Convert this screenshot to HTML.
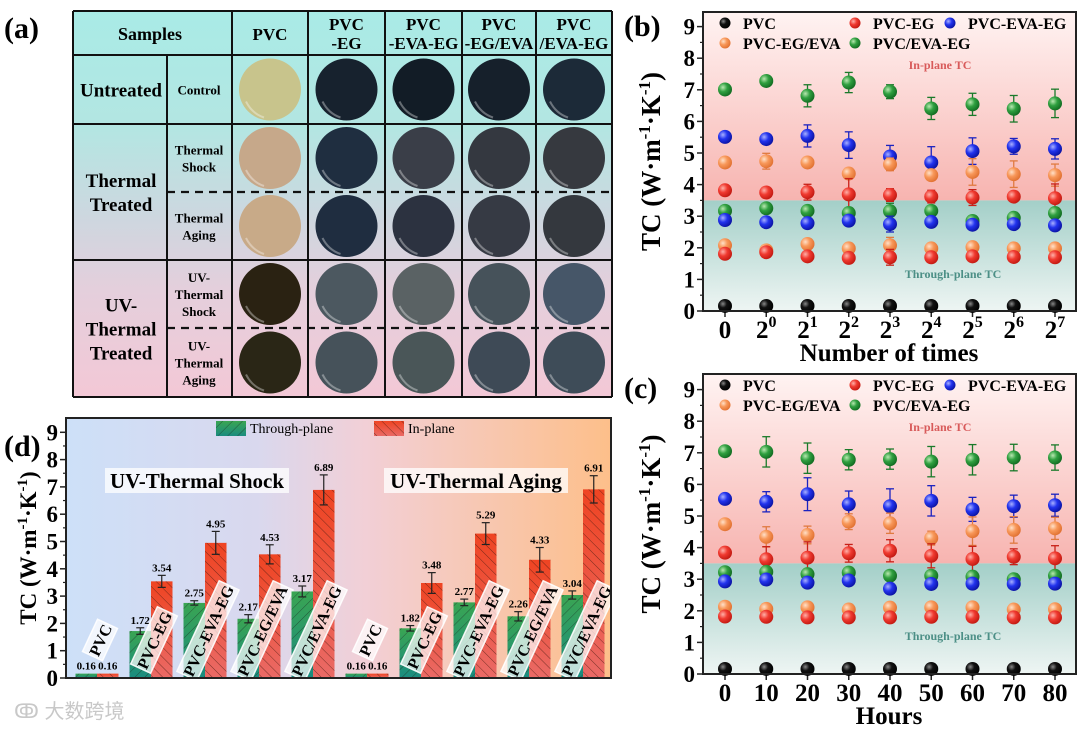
<!DOCTYPE html>
<html><head><meta charset="utf-8"><style>
html,body{margin:0;padding:0;background:#fff;}
svg{display:block;font-family:"Liberation Serif","Noto Serif CJK SC",serif;}
</style></head><body>
<svg id="fig" width="1080" height="732" viewBox="0 0 1080 732" xmlns="http://www.w3.org/2000/svg">
<defs>
<linearGradient id="tblBg" x1="0" y1="0" x2="0" y2="1">
<stop offset="0" stop-color="#a9ebe6"/><stop offset="0.3" stop-color="#b3e6e2"/><stop offset="0.55" stop-color="#cfd6df"/><stop offset="0.72" stop-color="#e4cfdc"/><stop offset="1" stop-color="#f3c8d6"/></linearGradient>
<linearGradient id="inBg" x1="0" y1="0" x2="0" y2="1"><stop offset="0" stop-color="#fff3f2"/><stop offset="1" stop-color="#f7b4b0"/></linearGradient>
<linearGradient id="thBg" x1="0" y1="0" x2="0" y2="1"><stop offset="0" stop-color="#a3cfc8"/><stop offset="1" stop-color="#eef5f3"/></linearGradient>
<linearGradient id="dBg" x1="0" y1="0" x2="1" y2="0"><stop offset="0" stop-color="#cde0f8"/><stop offset="0.35" stop-color="#d9d8ee"/><stop offset="0.55" stop-color="#f2cfd6"/><stop offset="1" stop-color="#fdbf8a"/></linearGradient>
<linearGradient id="gBar" x1="0" y1="0" x2="0" y2="1"><stop offset="0" stop-color="#3aa552"/><stop offset="1" stop-color="#1a8c80"/></linearGradient>
<linearGradient id="rBar" x1="0" y1="0" x2="0" y2="1"><stop offset="0" stop-color="#ef4422"/><stop offset="1" stop-color="#ea6a66"/></linearGradient>
<pattern id="hatchF" width="7" height="7" patternUnits="userSpaceOnUse" patternTransform="rotate(45)"><line x1="0" y1="0" x2="0" y2="7" stroke="#1d3a2a" stroke-width="1" opacity="0.7"/></pattern>
<pattern id="hatchB" width="7" height="7" patternUnits="userSpaceOnUse" patternTransform="rotate(-45)"><line x1="0" y1="0" x2="0" y2="7" stroke="#4a1a10" stroke-width="1" opacity="0.7"/></pattern>
<radialGradient id="s-black" cx="0.35" cy="0.35" r="0.7"><stop offset="0" stop-color="#888"/><stop offset="0.4" stop-color="#111"/><stop offset="1" stop-color="#000"/></radialGradient>
<radialGradient id="s-red" cx="0.35" cy="0.35" r="0.7"><stop offset="0" stop-color="#ffb0a8"/><stop offset="0.45" stop-color="#f03a30"/><stop offset="1" stop-color="#c01810"/></radialGradient>
<radialGradient id="s-blue" cx="0.35" cy="0.35" r="0.7"><stop offset="0" stop-color="#a8b0ff"/><stop offset="0.45" stop-color="#2233ee"/><stop offset="1" stop-color="#0a12a0"/></radialGradient>
<radialGradient id="s-orange" cx="0.35" cy="0.35" r="0.7"><stop offset="0" stop-color="#ffe0c8"/><stop offset="0.45" stop-color="#f8985a"/><stop offset="1" stop-color="#e07030"/></radialGradient>
<radialGradient id="s-green" cx="0.35" cy="0.35" r="0.7"><stop offset="0" stop-color="#b8e8b0"/><stop offset="0.45" stop-color="#30a040"/><stop offset="1" stop-color="#106a20"/></radialGradient>
</defs>

<text x="4" y="38" font-size="30" font-weight="bold">(a)</text>
<g id="tableA"></g>

<text x="624" y="36" font-size="30" font-weight="bold">(b)</text>
<g id="panelB"></g>
<text x="624" y="398" font-size="30" font-weight="bold">(c)</text>
<g id="panelC"></g>
<text x="4" y="456" font-size="30" font-weight="bold">(d)</text>
<g id="panelD"></g>

<text x="14" y="718" font-size="20" fill="#c8c8c8" font-family="'Liberation Sans','Noto Sans CJK SC',sans-serif">ↂ 大数跨境</text>
</svg>
<script>
const NS = "http://www.w3.org/2000/svg";
function mk(parent, tag, attrs, text) {
  const e = document.createElementNS(NS, tag);
  for (const k in attrs) e.setAttribute(k, attrs[k]);
  if (text !== undefined) e.textContent = text;
  parent.appendChild(e);
  return e;
}

/* ---------- Panel (a) table ---------- */
const colHeaders = [["PVC"], ["PVC", "-EG"], ["PVC", "-EVA-EG"], ["PVC", "-EG/EVA"], ["PVC", "/EVA-EG"]];
const rowLabels = [["Control"], ["Thermal", "Shock"], ["Thermal", "Aging"], ["UV-", "Thermal", "Shock"], ["UV-", "Thermal", "Aging"]];
const groupLabels = [["Untreated"], ["Thermal", "Treated"], ["UV-", "Thermal", "Treated"]];
const discColors = [
  ["#c8c48c", "#17222e", "#121c26", "#16202b", "#1c2a38"],
  ["#c6a88a", "#1f2e40", "#3a3e48", "#343840", "#36393f"],
  ["#c8aa88", "#1f2d40", "#2c3240", "#363a44", "#34383e"],
  ["#2a2212", "#4c5860", "#5a6264", "#46525a", "#465668"],
  ["#2a2616", "#46525a", "#4a5658", "#3e4a56", "#3e4c58"]
];
(function () {
  const g = document.getElementById("tableA");
  const X = [73, 167, 232, 308, 385, 462, 536, 612];
  const Y = [11, 55, 124, 192, 260, 328, 397];
  const bg = mk(g, "rect", { x: 73, y: 11, width: 539, height: 386, fill: "url(#tblBg)" });
  
  
  const sh = mk(g, "text", { x: 150, y: 40, "font-size": 18, "font-weight": "bold", "text-anchor": "middle" }, "Samples");
  
  
  colHeaders.forEach((lines, i) => {
    const cx = (X[i + 2] + X[i + 3]) / 2;
    const t = mk(g, "text", { x: cx, "font-size": 17, "font-weight": "bold", "text-anchor": "middle" });
    
    
    lines.forEach((l, j) => {
      const y0 = lines.length === 1 ? 40 : 30 + j * 19;
      mk(t, "tspan", { x: cx, y: y0 }, l);
    });
  });
  const gy = [[55, 124], [124, 260], [260, 397]];
  groupLabels.forEach((lines, i) => {
    const cy = (gy[i][0] + gy[i][1]) / 2;
    const fs = 19, lh = 24;
    const t = mk(g, "text", { x: 121, "font-size": fs, "font-weight": "bold", "text-anchor": "middle" });
    
    
    lines.forEach((l, j) => {
      mk(t, "tspan", { x: 121, y: cy - (lines.length - 1) * lh / 2 + j * lh + 7 }, l);
    });
  });
  rowLabels.forEach((lines, i) => {
    const cy = (Y[i + 1] + Y[i + 2]) / 2;
    const lh = 17;
    const t = mk(g, "text", { x: 199, "font-size": 13, "font-weight": "bold", "text-anchor": "middle" });
    
    
    lines.forEach((l, j) => {
      mk(t, "tspan", { x: 199, y: cy - (lines.length - 1) * lh / 2 + j * lh + 5 }, l);
    });
    for (let c = 0; c < 5; c++) {
      const cx = (X[c + 2] + X[c + 3]) / 2;
      const d = mk(g, "ellipse", { cx: cx, cy: cy, rx: 31, ry: 31, fill: discColors[i][c] });
      
      
      mk(g, "path", { d: `M${cx - 24} ${cy + 12} Q${cx - 18} ${cy + 24} ${cx - 6} ${cy + 28}`, stroke: "rgba(255,255,255,0.35)", "stroke-width": 2, fill: "none" });
    }
  });
  const L = (x1, y1, x2, y2, dash) => mk(g, "line", { x1, y1, x2, y2, stroke: "#111", "stroke-width": dash ? 2.2 : 2, "stroke-dasharray": dash ? "8 6" : "none" });
  L(73, 11, 612, 11); L(73, 397, 612, 397); L(73, 55, 612, 55); L(73, 124, 612, 124); L(73, 260, 612, 260);
  L(167, 192, 612, 192, true); L(167, 328, 612, 328, true);
  L(73, 11, 73, 397); L(612, 11, 612, 397); L(167, 55, 167, 397);
  [232, 308, 385, 462, 536].forEach(x => L(x, 11, x, 397));
})();

/* ---------- Panels (b) & (c) scatter data ---------- */
const seriesNames = ["PVC", "PVC-EG", "PVC-EVA-EG", "PVC-EG/EVA", "PVC/EVA-EG"];
const bCats = ["0", "2^0", "2^1", "2^2", "2^3", "2^4", "2^5", "2^6", "2^7"];
const cCats = ["0", "10", "20", "30", "40", "50", "60", "70", "80"];
const yTicks = [0, 1, 2, 3, 4, 5, 6, 7, 8, 9];

const bPVC = [0.16, 0.16, 0.16, 0.16, 0.16, 0.16, 0.16, 0.16, 0.16];
const bGreenIn = [7.01, 7.28, 6.81, 7.23, 6.94, 6.41, 6.54, 6.40, 6.57];
const bBlueIn = [5.51, 5.44, 5.54, 5.25, 4.89, 4.70, 5.06, 5.21, 5.13];
const bOrangeIn = [4.70, 4.74, 4.70, 4.35, 4.64, 4.30, 4.40, 4.33, 4.30];
const bRedIn = [3.82, 3.75, 3.76, 3.69, 3.67, 3.62, 3.59, 3.62, 3.57];
const bGreenTh = [3.17, 3.25, 3.17, 3.10, 3.16, 3.17, 2.85, 2.95, 3.10];
const bBlueTh = [2.88, 2.81, 2.78, 2.86, 2.75, 2.82, 2.73, 2.75, 2.71];
const bOrangeTh = [2.08, 1.92, 2.12, 1.98, 2.08, 1.98, 2.02, 1.98, 1.98];
const bRedTh = [1.81, 1.86, 1.73, 1.68, 1.70, 1.70, 1.73, 1.71, 1.70];
const bGreenInErr = [0.05, 0.15, 0.35, 0.32, 0.22, 0.35, 0.35, 0.42, 0.45];
const bBlueInErr = [0.05, 0.15, 0.35, 0.42, 0.35, 0.5, 0.42, 0.25, 0.32];
const bOrangeInErr = [0.05, 0.25, 0.05, 0.15, 0.2, 0.05, 0.42, 0.42, 0.35];
const bRedInErr = [0.05, 0.05, 0.25, 0.5, 0.2, 0.2, 0.25, 0.1, 0.45];
const bThErr = [0.05, 0.05, 0.15, 0.1, 0.25, 0.05, 0.05, 0.05, 0.15];

const cPVC = [0.16, 0.16, 0.16, 0.16, 0.16, 0.16, 0.16, 0.16, 0.16];
const cGreenIn = [7.05, 7.03, 6.83, 6.78, 6.80, 6.72, 6.78, 6.85, 6.85];
const cBlueIn = [5.54, 5.45, 5.69, 5.37, 5.31, 5.48, 5.21, 5.31, 5.34];
const cOrangeIn = [4.74, 4.34, 4.40, 4.82, 4.77, 4.30, 4.52, 4.56, 4.61];
const cRedIn = [3.84, 3.63, 3.68, 3.82, 3.90, 3.74, 3.64, 3.71, 3.66];
const cGreenTh = [3.22, 3.23, 3.16, 3.21, 3.11, 3.11, 3.08, 3.00, 3.11];
const cBlueTh = [2.93, 2.99, 2.89, 2.96, 2.70, 2.85, 2.86, 2.85, 2.86];
const cOrangeTh = [2.13, 2.06, 2.11, 2.04, 2.10, 2.11, 2.11, 2.04, 2.05];
const cRedTh = [1.82, 1.81, 1.79, 1.79, 1.79, 1.81, 1.81, 1.79, 1.79];
const cGreenInErr = [0.05, 0.48, 0.48, 0.32, 0.32, 0.48, 0.48, 0.42, 0.40];
const cBlueInErr = [0.05, 0.32, 0.52, 0.42, 0.55, 0.48, 0.38, 0.35, 0.35];
const cOrangeInErr = [0.12, 0.32, 0.28, 0.25, 0.32, 0.22, 0.45, 0.42, 0.35];
const cRedInErr = [0.1, 0.4, 0.5, 0.28, 0.35, 0.38, 0.4, 0.25, 0.4];
const cThErr = [0.05, 0.05, 0.05, 0.05, 0.05, 0.05, 0.05, 0.05, 0.05];

function scatterPanel(gid, top, bottom, cats, catLabelFn, xTitle, S) {
  const g = document.getElementById(gid);
  const L = 703, R = 1076, y0 = bottom, k = 31.6;
  const yS = v => y0 - v * k;
  const xS = i => 725 + i * (1055 - 725) / (cats.length - 1);
  const r1 = mk(g, "rect", { x: L, y: top, width: R - L, height: yS(3.5) - top, fill: "url(#inBg)" });
  
  
  const r2 = mk(g, "rect", { x: L, y: yS(3.5), width: R - L, height: bottom - yS(3.5), fill: "url(#thBg)" });
  
  
  const t1 = mk(g, "text", { x: 940, y: top + 57, "font-size": 12, "font-weight": "bold", fill: "#d85a5a", "text-anchor": "middle" }, "In-plane TC");
  
  
  const t2 = mk(g, "text", { x: 953, y: top + 266, "font-size": 12, "font-weight": "bold", fill: "#4c8f86", "text-anchor": "middle" }, "Through-plane TC");
  
  
  yTicks.forEach(v => {
    mk(g, "line", { x1: L, x2: L - 6, y1: yS(v), y2: yS(v), stroke: "#222", "stroke-width": 1.5 });
    if (v < 9) mk(g, "line", { x1: L, x2: L - 3, y1: yS(v + 0.5), y2: yS(v + 0.5), stroke: "#222", "stroke-width": 1.2 });
    const t = mk(g, "text", { x: L - 8, y: yS(v) + 8, "font-size": 23, "font-weight": "bold", "text-anchor": "end" }, String(v));
    
    
  });
  const yt = mk(g, "text", { x: 0, y: 0, "font-size": 27, "font-weight": "bold", "text-anchor": "middle", transform: `translate(660 ${(top + bottom) / 2}) rotate(-90)` });
  
  
  mk(yt, "tspan", {}, "TC (W·m");
  mk(yt, "tspan", { dy: -10, "font-size": 17 }, "-1");
  mk(yt, "tspan", { dy: 10 }, "·K");
  mk(yt, "tspan", { dy: -10, "font-size": 17 }, "-1");
  mk(yt, "tspan", { dy: 10 }, ")");
  cats.forEach((c, i) => {
    mk(g, "line", { x1: xS(i), x2: xS(i), y1: bottom, y2: bottom + 6, stroke: "#222", "stroke-width": 1.5 });
    const t = mk(g, "text", { x: xS(i), y: bottom + 27, "font-size": 25, "font-weight": "bold", "text-anchor": "middle" });
    
    
    if (c.indexOf("^") > 0) { const p = c.split("^"); mk(t, "tspan", {}, p[0]); mk(t, "tspan", { dy: -11, "font-size": 16 }, p[1]); }
    else t.textContent = c;
  });
  const xt = mk(g, "text", { x: 889, y: bottom + 50, "font-size": 25, "font-weight": "bold", "text-anchor": "middle" }, xTitle);
  
  
  S.forEach(s => {
    s.vals.forEach((v, i) => {
      const e = s.err[i];
      if (e > 0.06) {
        const col = s.ec;
        mk(g, "line", { x1: xS(i), x2: xS(i), y1: yS(v - e), y2: yS(v + e), stroke: col, "stroke-width": 1.3 });
        mk(g, "line", { x1: xS(i) - 4, x2: xS(i) + 4, y1: yS(v - e), y2: yS(v - e), stroke: col, "stroke-width": 1.3 });
        mk(g, "line", { x1: xS(i) - 4, x2: xS(i) + 4, y1: yS(v + e), y2: yS(v + e), stroke: col, "stroke-width": 1.3 });
      }
      const c = mk(g, "circle", { cx: xS(i), cy: yS(v), r: 7, fill: `url(#s-${s.color})` });
      
      
    });
  });
  const leg = [["black", 725, 23, "PVC"], ["red", 855, 23, "PVC-EG"], ["blue", 950, 23, "PVC-EVA-EG"], ["orange", 725, 43, "PVC-EG/EVA"], ["green", 855, 43, "PVC/EVA-EG"]];
  leg.forEach(l => {
    const ly = top - 12 + l[2];
    const lc = mk(g, "circle", { cx: l[1], cy: ly, r: 5.5, fill: `url(#s-${l[0]})` });
    
    
    const lt = mk(g, "text", { x: l[1] + 18, y: ly + 6, "font-size": 16, "font-weight": "bold" }, l[3]);
    
    
  });
  const fr = mk(g, "rect", { x: L, y: top, width: R - L, height: bottom - top, fill: "none", stroke: "#222", "stroke-width": 2 });
  
  
}
scatterPanel("panelB", 12, 311, bCats, null, "Number of times", [
  { vals: bPVC, err: bThErr.map(() => 0), color: "black", ec: "#000" },
  { vals: bGreenIn, err: bGreenInErr, color: "green", ec: "#1a7a2a" },
  { vals: bBlueIn, err: bBlueInErr, color: "blue", ec: "#1a22c0" },
  { vals: bOrangeIn, err: bOrangeInErr, color: "orange", ec: "#e07a40" },
  { vals: bRedIn, err: bRedInErr, color: "red", ec: "#c82018" },
  { vals: bGreenTh, err: bThErr, color: "green", ec: "#1a7a2a" },
  { vals: bBlueTh, err: bThErr, color: "blue", ec: "#1a22c0" },
  { vals: bOrangeTh, err: bThErr, color: "orange", ec: "#e07a40" },
  { vals: bRedTh, err: bThErr, color: "red", ec: "#c82018" }
]);
scatterPanel("panelC", 374, 674, cCats, null, "Hours", [
  { vals: cPVC, err: cThErr.map(() => 0), color: "black", ec: "#000" },
  { vals: cGreenIn, err: cGreenInErr, color: "green", ec: "#1a7a2a" },
  { vals: cBlueIn, err: cBlueInErr, color: "blue", ec: "#1a22c0" },
  { vals: cOrangeIn, err: cOrangeInErr, color: "orange", ec: "#e07a40" },
  { vals: cRedIn, err: cRedInErr, color: "red", ec: "#c82018" },
  { vals: cGreenTh, err: cThErr, color: "green", ec: "#1a7a2a" },
  { vals: cBlueTh, err: cThErr, color: "blue", ec: "#1a22c0" },
  { vals: cOrangeTh, err: cThErr, color: "orange", ec: "#e07a40" },
  { vals: cRedTh, err: cThErr, color: "red", ec: "#c82018" }
]);

/* ---------- Panel (d) bars ---------- */
const dCats = ["PVC", "PVC-EG", "PVC-EVA-EG", "PVC-EG/EVA", "PVC/EVA-EG", "PVC", "PVC-EG", "PVC-EVA-EG", "PVC-EG/EVA", "PVC/EVA-EG"];
const dThrough = [0.16, 1.72, 2.75, 2.17, 3.17, 0.16, 1.82, 2.77, 2.26, 3.04];
const dIn = [0.16, 3.54, 4.95, 4.53, 6.89, 0.16, 3.48, 5.29, 4.33, 6.91];
const dThroughErr = [0.01, 0.12, 0.08, 0.15, 0.2, 0.01, 0.1, 0.12, 0.17, 0.15];
const dInErr = [0.01, 0.22, 0.42, 0.35, 0.55, 0.01, 0.38, 0.4, 0.45, 0.5];
const dThroughLbl = ["0.16", "1.72", "2.75", "2.17", "3.17", "0.16", "1.82", "2.77", "2.26", "3.04"];
const dInLbl = ["0.16", "3.54", "4.95", "4.53", "6.89", "0.16", "3.48", "5.29", "4.33", "6.91"];
(function () {
  const g = document.getElementById("panelD");
  const L = 66, R = 611, T = 418, B = 678, k = 27.3;
  const yS = v => B - v * k;
  const xC = i => 97 + i * 54;
  const bw = 21.5;
  const bg = mk(g, "rect", { x: L, y: T, width: R - L, height: B - T, fill: "url(#dBg)" });
  
  
  yTicks.forEach(v => {
    mk(g, "line", { x1: L, x2: L - 6, y1: yS(v), y2: yS(v), stroke: "#222", "stroke-width": 1.5 });
    if (v < 9) mk(g, "line", { x1: L, x2: L - 3, y1: yS(v + 0.5), y2: yS(v + 0.5), stroke: "#222", "stroke-width": 1.2 });
    const t = mk(g, "text", { x: L - 8, y: yS(v) + 8, "font-size": 23, "font-weight": "bold", "text-anchor": "end" }, String(v));
    
    
  });
  const yt = mk(g, "text", { x: 0, y: 0, "font-size": 23, "font-weight": "bold", "text-anchor": "middle", transform: `translate(36 548) rotate(-90)` });
  
  
  mk(yt, "tspan", {}, "TC (W·m");
  mk(yt, "tspan", { dy: -9, "font-size": 15 }, "-1");
  mk(yt, "tspan", { dy: 9 }, "·K");
  mk(yt, "tspan", { dy: -9, "font-size": 15 }, "-1");
  mk(yt, "tspan", { dy: 9 }, ")");
  [["UV-Thermal Shock", 105, 289], ["UV-Thermal Aging", 384, 568]].forEach(a => {
    mk(g, "rect", { x: a[1], y: 468, width: a[2] - a[1], height: 25, fill: "rgba(255,255,255,0.75)" });
    const t = mk(g, "text", { x: (a[1] + a[2]) / 2, y: 488, "font-size": 21, "font-weight": "bold", "text-anchor": "middle" }, a[0]);
    
    
  });
  dCats.forEach((c, i) => {
    const x = xC(i);
    [[dThrough[i], dThroughErr[i], dThroughLbl[i], x - bw, "url(#gBar)", "url(#hatchF)", "through-plane-bar"],
     [dIn[i], dInErr[i], dInLbl[i], x, "url(#rBar)", "url(#hatchB)", "in-plane-bar"]].forEach(b => {
      const [v, e, lbl, bx, fill, hatch, nm] = b;
      const r = mk(g, "rect", { x: bx, y: yS(v), width: bw, height: B - yS(v), fill: fill });
      
      
      mk(g, "rect", { x: bx, y: yS(v), width: bw, height: B - yS(v), fill: hatch });
      const cx = bx + bw / 2;
      if (e > 0.05) {
        mk(g, "line", { x1: cx, x2: cx, y1: yS(v - e), y2: yS(v + e), stroke: "#222", "stroke-width": 1.2 });
        mk(g, "line", { x1: cx - 4, x2: cx + 4, y1: yS(v + e), y2: yS(v + e), stroke: "#222", "stroke-width": 1.2 });
        mk(g, "line", { x1: cx - 4, x2: cx + 4, y1: yS(v - e), y2: yS(v - e), stroke: "#222", "stroke-width": 1.2 });
      }
      const t = mk(g, "text", { x: cx, y: yS(v + e) - 4, "font-size": 11, "font-weight": "bold", "text-anchor": "middle" }, lbl);
      
      
    });
    const len = c.length * 9.2 + 8;
    const ang = 65 * Math.PI / 180;
    const cxl = x + 3;
    const cyl = Math.min(640, 676 - (len / 2) * Math.sin(ang));
    const lg = mk(g, "g", { transform: `translate(${cxl} ${cyl}) rotate(-65)` });
    
    
    mk(lg, "rect", { x: -len / 2, y: -11, width: len, height: 22, fill: "rgba(255,255,255,0.72)", stroke: "rgba(255,255,255,0.9)", "stroke-width": 1.5 });
    mk(lg, "text", { x: 0, y: 6, "font-size": 16, "font-weight": "bold", "text-anchor": "middle" }, c);
  });
  mk(g, "rect", { x: 216, y: 421, width: 30, height: 15, fill: "url(#gBar)" });
  const lr1 = mk(g, "rect", { x: 216, y: 421, width: 30, height: 15, fill: "url(#hatchF)" });
  
  
  const lt1 = mk(g, "text", { x: 250, y: 433, "font-size": 14 }, "Through-plane");
  
  
  mk(g, "rect", { x: 374, y: 421, width: 30, height: 15, fill: "url(#rBar)" });
  const lr2 = mk(g, "rect", { x: 374, y: 421, width: 30, height: 15, fill: "url(#hatchB)" });
  
  
  const lt2 = mk(g, "text", { x: 408, y: 433, "font-size": 14 }, "In-plane");
  
  
  const fr = mk(g, "rect", { x: L, y: T, width: R - L, height: B - T, fill: "none", stroke: "#222", "stroke-width": 2 });
  
  
})();
</script>
</body></html>
